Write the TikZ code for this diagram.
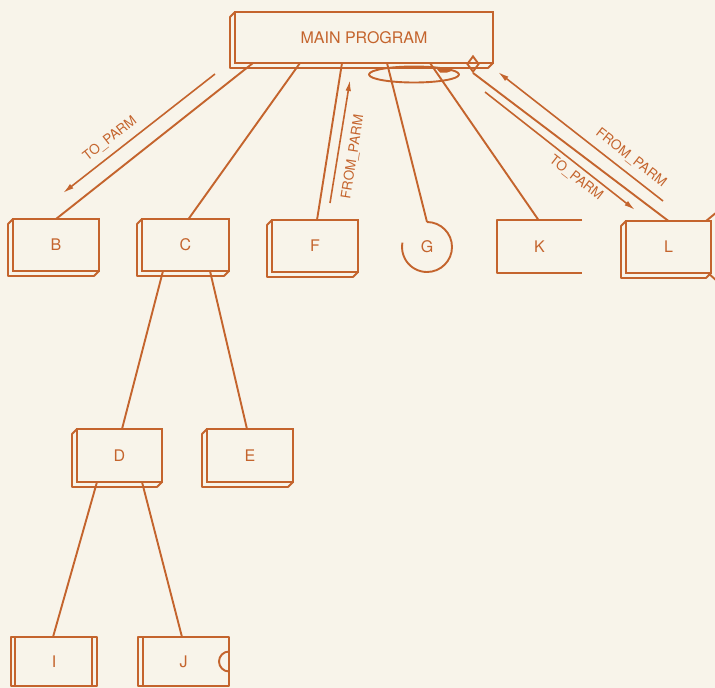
\documentclass[tikz,border=0pt]{standalone}
\usepackage{fontspec}
\setmainfont{TeX Gyre Heros}
\usetikzlibrary{arrows.meta,shapes.geometric}
\definecolor{ink}{RGB}{196,100,45}
\definecolor{paper}{RGB}{248,244,234}
\begin{document}
\begin{tikzpicture}[x=1pt,y=-1pt,
  wire/.style={draw=ink,line width=1.9pt,line join=round},
  slab/.style={draw=ink,line width=1.9pt,inner sep=0pt,outer sep=0pt,
    minimum width=86pt,minimum height=52pt,text=ink,font=\fontsize{16}{18}\selectfont},
  tag/.style={text=ink,font=\fontsize{13.5}{15}\selectfont,inner sep=0pt},
  flow/.style={draw=ink,line width=1.6pt,-{Latex[length=11pt,width=5.5pt]}}]
\fill[paper] (0,0) rectangle (715,688);
\useasboundingbox (0,0) rectangle (715,688);

% module boxes
\node[slab,minimum width=258pt,minimum height=51pt] (main) at (364,37.5) {MAIN PROGRAM};
\node[slab] (B) at (56,245) {B};
\node[slab,minimum width=87pt] (C) at (185.5,245) {C};
\node[slab] (F) at (315,246) {F};
\node[slab,draw=none,circle,minimum size=50pt] (G) at (427,247) {G};
\node[slab,draw=none,minimum width=85pt,minimum height=53pt] (K) at (539.5,246.5) {K};
\node[slab,minimum width=85pt] (L) at (668.5,247) {L};
\node[slab,minimum width=85pt,minimum height=53pt] (D) at (119.5,455.5) {D};
\node[slab,minimum height=53pt] (E) at (250,455.5) {E};
\node[slab,draw=none,minimum width=86pt,minimum height=49pt] (I) at (54,661.5) {I};
\node[slab,draw=none,minimum width=91pt,minimum height=49pt] (J) at (183.5,661.5) {J};
\node[draw=ink,line width=1.9pt,diamond,aspect=0.75,minimum width=12pt,minimum height=16pt,inner sep=0pt] (dm) at (473,64) {};

% thickness edges of the slab boxes
\foreach \n in {main,B,C,F,L,D,E}
  \draw[wire] (\n.north west) -- ++(-5,5) |- ([shift={(-5,5)}]\n.south east) -- (\n.south east);

% G: open circle
\draw[wire] (G.north) arc[start angle=90,end angle=-190,radius=25pt];

% K: box open on the right
\draw[wire] (K.north east) -- (K.north west) -- (K.south west) -- (K.south east);

% I: double sides
\draw[wire] (I.north west) rectangle (I.south east);
\draw[wire] ([xshift=4pt]I.north west) -- ([xshift=4pt]I.south west);
\draw[wire] ([xshift=-5pt]I.north east) -- ([xshift=-5pt]I.south east);

% J: double left side, notch on the right
\draw[wire] (J.north west) rectangle (J.south east);
\draw[wire] ([xshift=5pt]J.north west) -- ([xshift=5pt]J.south west);
\draw[wire] ([yshift=10pt]J.east) arc[start angle=90,end angle=270,radius=10pt];

% L: loop leaving on the right
\draw[wire] ([xshift=-5pt]L.north east) -- ++(11,-9);
\draw[wire] ([xshift=-3pt]L.south east) -- ++(9,8);

% loop under the main program
\draw[wire] (414,74.5) ellipse [x radius=45pt,y radius=8pt];
\fill[ink] (436,68) -- (452,68) .. controls (452,71) .. (447,72.5) -- (440,72.5) -- cycle;

% calls
\draw[wire] ([xshift=18pt]main.south west) -- (B.north);
\draw[wire] ([xshift=65pt]main.south west) -- ([xshift=3pt]C.north);
\draw[wire] ([xshift=107pt]main.south west) -- ([xshift=2pt]F.north);
\draw[wire] ([xshift=152pt]main.south west) -- (G.north);
\draw[wire] ([xshift=195pt]main.south west) -- ([xshift=-1pt]K.north);
\draw[wire] (dm.south) -- (L.north);
\draw[wire] ([xshift=21pt]C.south west) -- ([xshift=2.5pt]D.north);
\draw[wire] ([xshift=68pt]C.south west) -- ([xshift=-3pt]E.north);
\draw[wire] ([xshift=20pt]D.south west) -- ([xshift=-1pt]I.north);
\draw[wire] ([xshift=65pt]D.south west) -- ([xshift=-1.5pt]J.north);

% parameter flows
\coordinate (tb1) at (215,74);  \coordinate (tb2) at (63,193);
\coordinate (ff1) at (330,203); \coordinate (ff2) at (350,80);
\coordinate (fl1) at (663,201); \coordinate (fl2) at (498,72);
\coordinate (tl1) at (485,92);  \coordinate (tl2) at (635,210);
\draw[flow] (tb1) -- (tb2);
\draw[flow] (ff1) -- (ff2);
\draw[flow] (fl1) -- (fl2);
\draw[flow] (tl1) -- (tl2);
\node[tag,rotate=38] at (110,139) {TO\_PARM};
\node[tag,rotate=81] at (353,157) {FROM\_PARM};
\node[tag,rotate=-38] at (631,158) {FROM\_PARM};
\node[tag,rotate=-38] at (576,178) {TO\_PARM};
\end{tikzpicture}
\end{document}
